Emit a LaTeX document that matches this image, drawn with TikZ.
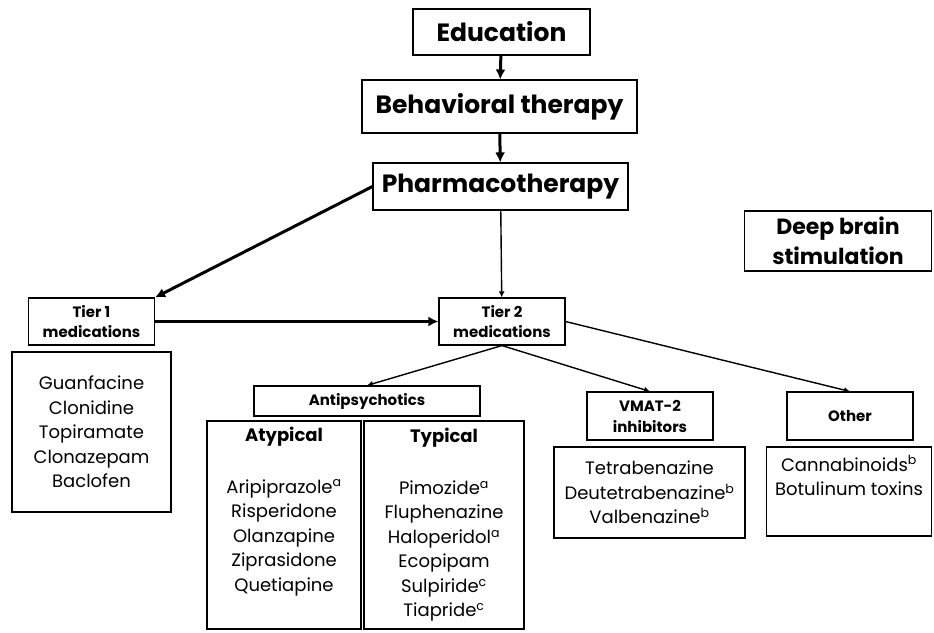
\documentclass[tikz,border=0pt]{standalone}
\usepackage{fontspec}
\setmainfont{Poppins}
\usetikzlibrary{arrows.meta}
\tikzstyle{box}=[draw, line width=1.1pt, inner sep=0pt, align=center]
\tikzstyle{mainbox}=[box, font=\fontsize{25}{30}\selectfont\bfseries]
\tikzstyle{tierbox}=[box, font=\fontsize{15}{20}\selectfont\bfseries, minimum width=126pt, minimum height=47pt]
\tikzstyle{classbox}=[box, font=\fontsize{15}{21}\selectfont\bfseries]
\tikzstyle{listbox}=[box, font=\fontsize{18}{24.5}\selectfont]
\tikzstyle{bigarrow}=[line width=3pt, -{Latex[length=10pt,width=10pt]}]
\tikzstyle{smallarrow}=[line width=1.4pt, -{Latex[length=6pt,width=6pt]}]

\begin{document}
\begin{tikzpicture}[x=1pt, y=-1pt]
        \useasboundingbox (0,0) rectangle (934,632);
        % main ladder
        \node[mainbox, minimum width=177pt, minimum height=46pt] (edu) at (501.5, 32) {Education};
        \node[mainbox, minimum width=275pt, minimum height=53pt] (beh) at (499.5, 106.5) {Behavioral therapy};
        \node[mainbox, minimum width=255pt, minimum height=47pt] (pharm) at (500.5, 186.5) {Pharmacotherapy};
        \node[box, font=\fontsize{22}{30}\selectfont\bfseries, minimum width=187pt, minimum height=60pt] (dbs) at (838, 241) {Deep brain\\stimulation};
        % tiers
        \node[tierbox] (tier1) at (91.5, 321.5) {Tier 1\\medications};
        \node[tierbox] (tier2) at (502, 321.5) {Tier 2\\medications};
        \node[listbox, minimum width=159pt, minimum height=160pt] (t1list) at (91.5, 432) {Guanfacine\\Clonidine\\Topiramate\\Clonazepam\\Baclofen};
        % classes under tier 2
        \node[classbox, minimum width=226pt, minimum height=30pt] (anti) at (367, 401) {Antipsychotics};
        \node[classbox, minimum width=126pt, minimum height=48pt] (vmat) at (650, 416) {VMAT-2\\inhibitors};
        \node[classbox, minimum width=126pt, minimum height=48pt] (other) at (850, 416) {Other};
        \node[listbox, minimum width=154pt, minimum height=208pt] (atyp) at (284, 525) {\textbf{Atypical}\\[27pt]Aripiprazole\textsuperscript{a}\\Risperidone\\Olanzapine\\Ziprasidone\\Quetiapine\\\strut};
        \node[listbox, minimum width=160pt, minimum height=208pt] (typ) at (444, 525) {\textbf{Typical}\\[27pt]Pimozide\textsuperscript{a}\\Fluphenazine\\Haloperidol\textsuperscript{a}\\Ecopipam\\Sulpiride\textsuperscript{c}\\Tiapride\textsuperscript{c}};
        \node[listbox, minimum width=191pt, minimum height=91pt] (vlist) at (649.5, 492.5) {Tetrabenazine\\Deutetrabenazine\textsuperscript{b}\\Valbenazine\textsuperscript{b}};
        \node[listbox, minimum width=165pt, minimum height=89pt] (olist) at (849, 491.5) {Cannabinoids\textsuperscript{b}\\Botulinum toxins\\\strut};
        % arrows
        \draw[bigarrow] (edu) -- (beh);
        \draw[bigarrow] (beh) -- (pharm);
        \draw[bigarrow] (pharm.west) -- (tier1.north east);
        \draw[bigarrow] (tier1) -- (tier2);
        \draw[smallarrow] (pharm) -- (tier2);
        \draw[smallarrow] (tier2.south) -- (anti.north);
        \draw[smallarrow] (tier2.south) -- (vmat.north);
        \draw[smallarrow] (tier2.east) -- (other.north);
\end{tikzpicture}
\end{document}
